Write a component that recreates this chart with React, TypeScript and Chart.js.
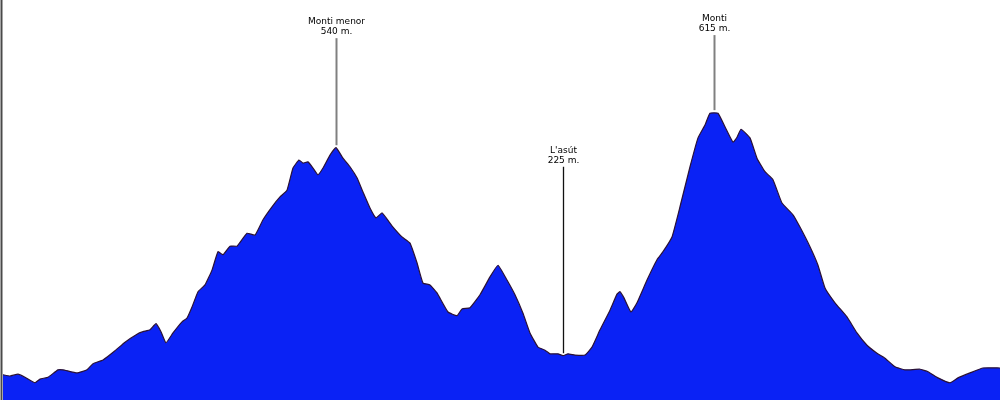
import React, { useEffect, useRef } from "react";
import { Chart, registerables } from "chart.js";

Chart.register(...registerables);

// distance along the route (horizontal units)
const distances = [
  3, 10, 18, 25, 35, 40, 48, 58, 63, 77, 87, 93, 103, 115, 125, 137, 143, 150, 156, 161,
  166, 173, 182, 187, 192, 198, 205, 212, 218, 223, 230, 237, 247, 255, 263, 272, 280, 287, 293, 299,
  303, 308, 313, 318, 323, 330, 336, 343, 350, 357, 363, 370, 376, 382, 387, 393, 402, 410, 417, 423,
  430, 437, 448, 457, 462, 470, 480, 490, 498, 507, 515, 523, 530, 538, 545, 550, 558, 563, 568, 575,
  585, 592, 600, 610, 617, 620, 624, 631, 637, 647, 657, 663, 672, 680, 690, 698, 705, 710, 718, 725,
  733, 737, 741, 750, 757, 765, 773, 782, 793, 800, 810, 818, 825, 835, 847, 857, 867, 877, 885, 895,
  905, 920, 928, 938, 950, 958, 970, 983, 1000,
];

// elevation in metres
const elevations = [
  191, 189, 192, 187, 178, 184, 187, 199, 199, 194, 199, 209, 215, 230, 244, 257, 261, 264, 274, 261,
  243, 259, 277, 283, 301, 326, 337, 361, 391, 386, 400, 400, 421, 418, 443, 464, 480, 491, 527, 540,
  535, 537, 527, 516, 527, 548, 560, 543, 529, 511, 488, 462, 446, 454, 444, 431, 415, 405, 373, 340,
  337, 324, 293, 287, 298, 300, 321, 350, 369, 345, 321, 291, 259, 236, 231, 225, 225, 222, 225, 223,
  223, 236, 264, 296, 322, 326, 316, 293, 308, 345, 378, 391, 415, 464, 529, 576, 597, 616, 616, 594,
  569, 577, 590, 576, 543, 521, 508, 470, 451, 431, 399, 369, 332, 308, 285, 259, 239, 226, 218, 204,
  199, 200, 196, 186, 178, 186, 194, 202, 202,
];

// annotated points
const markNames = ["Monti menor", "L'asút", "Monti"];
const markHeights = ["540 m.", "225 m.", "615 m."];
const markDistances = [336, 563, 714];
const markLineBottoms = [564, 226, 621];
const markLineTops = [738, 529, 743];
const markColors = ["#808080", "#111111", "#808080"];
const markWidths = [2, 1.3, 2];

const annotationPlugin = {
  id: "peakMarks",
  afterDatasetsDraw(chart: any) {
    const { ctx, scales } = chart;
    const xs = scales.x;
    const ys = scales.y;
    ctx.save();
    // left axis line
    ctx.strokeStyle = "#4a4a4a";
    ctx.lineWidth = 2;
    ctx.beginPath();
    ctx.moveTo(1.5, 0);
    ctx.lineTo(1.5, chart.height);
    ctx.stroke();

    for (let i = 0; i < markNames.length; i++) {
      const px = Math.round(xs.getPixelForValue(markDistances[i])) + 0.5;
      const top = ys.getPixelForValue(markLineTops[i]);
      const bottom = ys.getPixelForValue(markLineBottoms[i]);
      ctx.strokeStyle = markColors[i];
      ctx.lineWidth = markWidths[i];
      ctx.beginPath();
      ctx.moveTo(px, top);
      ctx.lineTo(px, bottom);
      ctx.stroke();
      ctx.fillStyle = "#000000";
      ctx.font = "9px 'DejaVu Sans', sans-serif";
      ctx.textAlign = "center";
      ctx.textBaseline = "middle";
      ctx.fillText(markNames[i], px, top - 16);
      ctx.fillText(markHeights[i], px, top - 6);
    }
    ctx.restore();
  },
};

export default function App() {
  const canvasRef = useRef<HTMLCanvasElement | null>(null);

  useEffect(() => {
    document.body.style.margin = "0";
    const canvas = canvasRef.current;
    if (!canvas) return;
    const chart = new Chart(canvas, {
      type: "line",
      data: {
        datasets: [
          {
            data: distances.map((d, i) => ({ x: d, y: elevations[i] })),
            borderColor: "#2a1236",
            borderWidth: 1.2,
            backgroundColor: "#0a22f5",
            fill: "start",
            pointRadius: 0,
            tension: 0.12,
          },
        ],
      },
      options: {
        responsive: false,
        animation: false,
        layout: { padding: 0 },
        plugins: {
          legend: { display: false },
          tooltip: { enabled: false },
        },
        scales: {
          x: { type: "linear", min: 0, max: 1000, display: false },
          y: { type: "linear", min: 150, max: 800, display: false },
        },
      },
      plugins: [annotationPlugin],
    });
    return () => chart.destroy();
  }, []);

  return (
    <div style={{ position: "fixed", left: 0, top: 0, width: 1000, height: 400, background: "#ffffff" }}>
      <canvas ref={canvasRef} width={1000} height={400} style={{ display: "block" }} />
    </div>
  );
}
